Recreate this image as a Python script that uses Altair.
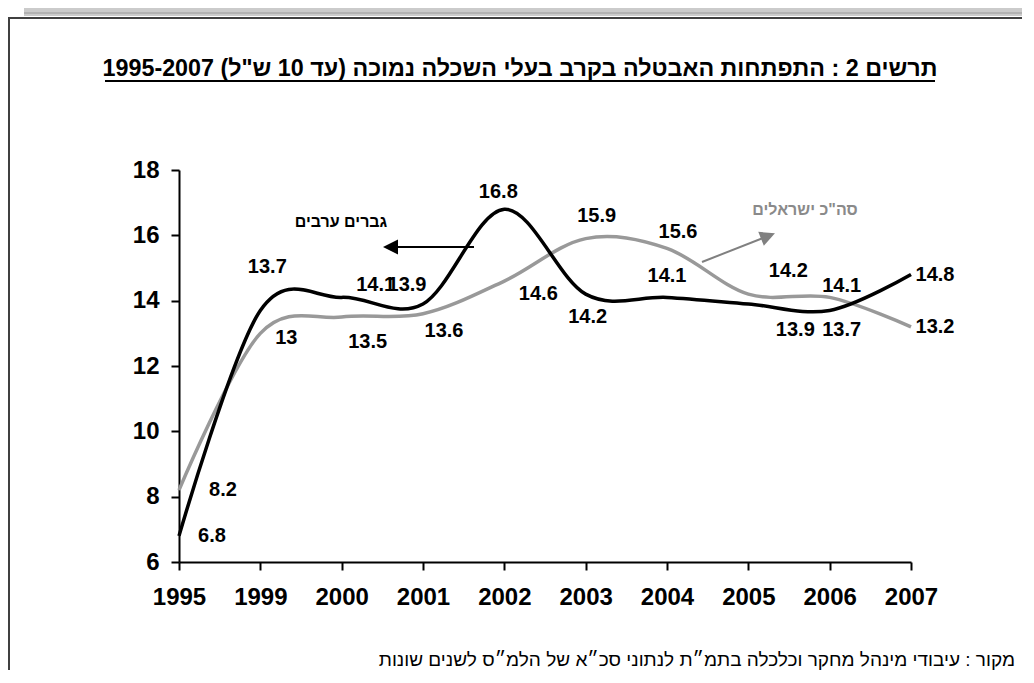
import altair as alt
import pandas as pd

# ---------------- data ----------------
years = ["1995", "1999", "2000", "2001", "2002", "2003", "2004", "2005", "2006", "2007"]
arab_men = [6.8, 13.7, 14.1, 13.9, 16.8, 14.2, 14.1, 13.9, 13.7, 14.8]
all_israelis = [8.2, 13.0, 13.5, 13.6, 14.6, 15.9, 15.6, 14.2, 14.1, 13.2]
series_names = ["גברים ערבים", 'סה"כ ישראלים']
y_ticks = [6, 8, 10, 12, 14, 16, 18]

title_text = 'תרשים 2 : התפתחות האבטלה בקרב בעלי השכלה נמוכה (עד 10 ש"ל) 1995-2007'
source_text = "מקור : עיבודי מינהל מחקר וכלכלה בתמ״ת לנתוני סכ״א של הלמ״ס לשנים שונות"

# label offsets (pixels, styling only)
arab_dx = [33, 7, 34, -16, -6, 2, 0, 47, 12, 24]
arab_dy = [0, -43, -12, -19, -17, 23, -21, 26, 20, 0]
isr_dx = [44, 26, 26, 21, 34, 11, 11, 40, 12, 24]
isr_dy = [0, 5, 25, 17, 13, -23, -16, -23, -11, 0]

FONT = "Liberation Sans"

rows = []
for i, y in enumerate(years):
    rows.append({"series": series_names[0], "year": y, "value": arab_men[i],
                 "label": f"{arab_men[i]:g}", "key": f"a{i}"})
    rows.append({"series": series_names[1], "year": y, "value": all_israelis[i],
                 "label": f"{all_israelis[i]:g}", "key": f"b{i}"})
df = pd.DataFrame(rows)

x_enc = alt.X("year:O", sort=years, scale=alt.Scale(type="point", padding=0),
              axis=alt.Axis(title=None, labelAngle=0, labelFontSize=24, labelFont=FONT,
                            labelFontWeight="bold", labelColor="black", labelPadding=15,
                            domainColor="black", domainWidth=2, tickColor="black",
                            tickWidth=2, tickSize=8, grid=False))
y_enc = alt.Y("value:Q", scale=alt.Scale(domain=[6, 18], nice=False, zero=False),
              axis=alt.Axis(title=None, values=y_ticks, labelFontSize=24, labelFont=FONT,
                            labelFontWeight="bold", labelColor="black", labelPadding=12,
                            domainColor="black", domainWidth=2, tickColor="black",
                            tickWidth=2, tickSize=8, grid=False))

base = alt.Chart(df)

gray_line = base.transform_filter(
    "substring(datum.key,0,1) == 'b'").mark_line(
    interpolate="cardinal", strokeWidth=3.5, color="#999999").encode(x=x_enc, y=y_enc)
black_line = base.transform_filter(
    "substring(datum.key,0,1) == 'a'").mark_line(
    interpolate="cardinal", strokeWidth=3.5, color="#000000").encode(x=x_enc, y=y_enc)

label_layers = []
for i in range(len(years)):
    for prefix, dxs, dys in (("a", arab_dx, arab_dy), ("b", isr_dx, isr_dy)):
        label_layers.append(
            base.transform_filter(alt.datum.key == f"{prefix}{i}").mark_text(
                font=FONT, fontSize=20, fontWeight="bold", color="black",
                align="center", baseline="middle", dx=dxs[i], dy=dys[i]
            ).encode(x=alt.X("year:O", sort=years), y=alt.Y("value:Q"), text="label:N")
        )

one = pd.DataFrame({"t": [""]})

def text_at(txt, x, y, size, weight="bold", color="black", align="center", baseline="middle"):
    return alt.Chart(pd.DataFrame({"t": [txt]})).mark_text(
        font=FONT, fontSize=size, fontWeight=weight, color=color, align=align,
        baseline=baseline).encode(text="t:N", x=alt.value(x), y=alt.value(y))

def rule(x, x2, y, y2, color, w):
    return alt.Chart(one).mark_rule(color=color, strokeWidth=w).encode(
        x=alt.value(x), x2=alt.value(x2), y=alt.value(y), y2=alt.value(y2))

# decoration: top strip and frame
strip = alt.Chart(one).mark_rect(color="#cbcbcb").encode(
    x=alt.value(-155), x2=alt.value(850), y=alt.value(-162), y2=alt.value(-154))
strip_line = rule(-155, 850, -157, -157, "#9a9a9a", 1)
frame_top = rule(-171, 850, -152, -152, "#404040", 2)
frame_left = rule(-170, -170, -152, 500, "#404040", 2)

title = text_at(title_text, 341, -94, 23.3, baseline="alphabetic")
title_ul = rule(-74, 756, -89, -89, "black", 2)
source = text_at(source_text, 836, 496, 19, weight="normal", align="right", baseline="alphabetic")

arab_lbl = text_at(series_names[0], 162, 52, 16)
isr_lbl = text_at(series_names[1], 626, 40, 16, color="#8a8a8a")

arab_arrow = rule(211, 295, 77, 77, "black", 2)
arab_head = alt.Chart(one).mark_point(
    shape="M-1,0L1,-1L1,1Z", filled=True, opacity=1, color="black", size=225
).encode(x=alt.value(211.5), y=alt.value(77))
isr_arrow = rule(523, 589, 92, 66, "#808080", 2)
isr_head = alt.Chart(one).mark_point(
    shape="M1,0L-1,-1L-1,1Z", filled=True, opacity=1, color="#808080", size=225, angle=338
).encode(x=alt.value(589), y=alt.value(66))

chart = alt.layer(
    strip, strip_line, frame_top, frame_left,
    gray_line, black_line, *label_layers,
    title, title_ul, source, arab_lbl, isr_lbl,
    arab_arrow, arab_head, isr_arrow, isr_head,
).properties(
    width=732, height=392,
    padding={"left": 171, "top": 162, "right": 111, "bottom": 108},
    autosize="none", background="white",
).configure_view(stroke=None)

chart.save("out.html", embed_options={"renderer": "svg", "actions": False})
